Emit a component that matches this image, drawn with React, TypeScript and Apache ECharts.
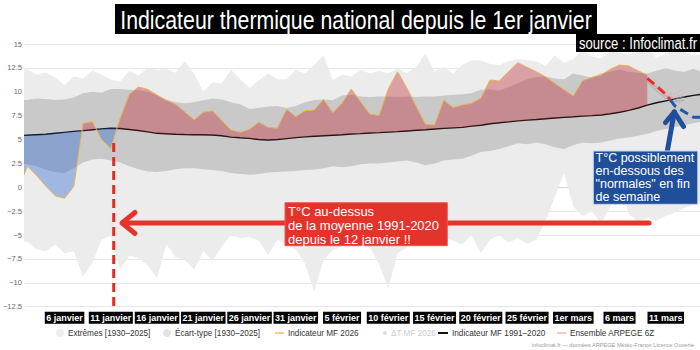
import React, { useEffect, useRef } from "react";
import * as echarts from "echarts";

// Day index (366-day climatological calendar: 1 = 1 Jan, 60 = 29 Feb, 61 = 1 Mar)
const DAYS = Array.from({ length: 75 }, (_, i) => i + 1);
const TICK_DAYS = [6, 11, 16, 21, 26, 31, 36, 41, 46, 51, 56, 61, 66, 71];
const TICK_LABELS = [
  "6 janvier", "11 janvier", "16 janvier", "21 janvier", "26 janvier", "31 janvier",
  "5 février", "10 février", "15 février", "20 février", "25 février",
  "1er mars", "6 mars", "11 mars",
];

const EXT_MAX = [
  12.8, 12.3, 11.8, 12.0, 11.5, 10.7, 11.6, 11.4, 12.2, 11.8,
  11.25, 11.05, 12.2, 11.7, 12.55, 12.3, 12.4, 12.0, 13.2, 11.9,
  10.0, 11.0, 10.9, 12.3, 11.3, 10.4, 11.2, 11.9, 11.3, 11.3,
  12.3, 11.9, 12.8, 13.85, 11.2, 11.8, 11.6, 12.3, 11.9, 12.2,
  11.9, 12.5, 11.9, 12.6, 14.0, 12.1, 12.6, 11.9, 12.8, 13.3,
  13.3, 12.9, 12.8, 13.2, 13.4, 13.3, 13.2, 12.7, 13.8, 13.0,
  13.4, 14.4, 13.7, 13.5, 14.2, 14.1, 13.9, 14.2, 14.7, 13.5,
  14.0, 14.5, 14.2, 13.8, 13.9,
];
const EXT_MIN = [
  -5.6, -5.7, -6.5, -6.7, -6.0, -6.9, -6.7, -9.4, -7.9, -5.5,
  -5.1, -8.6, -7.2, -7.4, -8.2, -9.5, -6.0, -7.3, -7.6, -8.6,
  -6.7, -7.7, -6.2, -5.0, -5.3, -5.2, -5.6, -7.1, -5.5, -6.0,
  -6.5, -8.0, -10.9, -7.6, -6.6, -6.2, -6.0, -5.8, -6.3, -8.0,
  -10.6, -6.9, -6.3, -5.6, -5.2, -5.4, -5.2, -5.6, -6.0, -5.0,
  -6.9, -5.5, -5.0, -5.8, -5.3, -5.9, -5.5, -3.5, -1.0, 1.5,
  -2.0, -3.0, -2.5, -3.8, -2.0, 0.0, -2.8, -3.6, -3.2, -3.5,
  -3.0, -2.6, -2.2, -1.8, -1.6,
];
const SD_MAX = [
  9.1, 9.15, 9.3, 9.25, 9.15, 9.2, 9.4, 9.85, 10.0, 9.9,
  10.3, 10.3, 10.2, 10.15, 10.0, 9.6, 9.2, 8.9, 8.8, 8.9,
  9.1, 9.3, 9.2, 8.9, 8.7, 8.2, 8.3, 8.45, 8.5, 8.3,
  8.5, 8.9, 9.15, 9.2, 9.1, 9.6, 9.7, 9.5, 9.45, 9.5,
  9.5, 9.45, 9.5, 9.45, 9.5, 9.5, 9.6, 9.7, 9.75, 9.85,
  10.2, 10.25, 10.1, 10.5, 10.9, 11.3, 11.55, 11.6, 11.4, 11.3,
  11.9, 11.7, 11.5, 11.9, 12.1, 12.3, 12.1, 12.0, 11.9, 12.2,
  12.45, 12.2, 12.1, 12.4, 12.0,
];
const SD_MIN = [
  2.5, 2.4, 2.2, 1.8, 1.6, 1.5, 2.0, 2.6, 2.9, 3.0,
  2.8, 2.6, 2.2, 1.9, 1.65, 1.6, 1.7, 1.9, 2.0, 2.0,
  1.9, 1.8, 1.7, 1.5, 1.4, 1.3, 1.4, 1.55, 1.6, 1.65,
  1.7, 1.8, 1.85, 2.0, 2.2, 2.1, 2.2, 2.4, 2.5, 2.5,
  2.6, 2.7, 2.8, 2.6, 2.3, 2.5, 2.8, 2.9, 3.0, 3.3,
  3.7, 3.8, 4.0, 4.3, 4.6, 4.5, 4.7, 4.5, 4.2, 4.0,
  4.4, 4.7, 4.6, 4.7, 4.9, 5.1, 5.2, 5.4, 5.6, 5.9,
  6.1, 6.3, 6.5, 6.7, 6.9,
];
const NORMAL_1991_2020 = [
  5.4, 5.45, 5.5, 5.55, 5.65, 5.75, 5.85, 5.93, 6.03, 6.12,
  6.18, 6.15, 6.05, 5.95, 5.8, 5.65, 5.6, 5.55, 5.52, 5.5,
  5.5, 5.48, 5.4, 5.25, 5.18, 5.12, 5.0, 4.95, 5.0, 5.1,
  5.2, 5.28, 5.35, 5.4, 5.45, 5.5, 5.58, 5.62, 5.68, 5.72,
  5.78, 5.83, 5.9, 5.97, 6.03, 6.1, 6.17, 6.22, 6.27, 6.4,
  6.5, 6.65, 6.75, 6.85, 6.95, 7.03, 7.1, 7.18, 7.25, 7.32,
  7.38, 7.45, 7.5, 7.57, 7.7, 7.85, 8.05, 8.3, 8.6, 8.85,
  9.05, 9.25, 9.45, 9.62, 9.75,
];
const INDICATOR_2026 = [
  -0.1, 2.2, 1.2, 0.1, -0.9, -1.15, 0.1, 6.7, 6.87, 5.0,
  4.08, 7.2, 9.73, 10.5, 10.25, 9.66, 9.1, 8.7, 7.9, 7.05,
  7.85, 8.0, 6.98, 6.0, 5.76, 6.07, 6.8, 6.28, 6.18, 8.17,
  7.39, 8.02, 8.09, 9.2, 7.81, 8.8, 10.29, 8.96, 7.68, 7.5,
  10.3, 12.1, 10.4, 8.5, 6.63, 6.52, 9.14, 8.34, 8.62, 8.8,
  9.32, 11.23, 11.13, 12.1, 13.05, 12.56, 12.1, 11.58, 10.9, 10.2,
  9.56, 11.16, 11.5, 11.76, 12.35, 12.8, 12.7, 12.2, 11.76,
];
const FORECAST_DAYS = [69, 70, 71, 72, 73, 74, 75];
const FORECAST = [11.4, 10.6, 9.75, 8.5, 7.9, 7.33, 7.35];
const ENS_DAYS = [69, 70, 71, 72, 73];
const ENSEMBLE_GREY = [
  [11.3, 10.5, 9.6, 9.2, 9.5],
  [11.0, 10.1, 9.3, 9.0, 9.1],
];
const ENSEMBLE_PINK = [
  [11.5, 10.8, 9.9, 9.7, 10.4],
  [11.2, 10.3, 9.5, 8.9, 8.8],
  [11.1, 10.4, 9.7, 9.4, 9.9],
];

const SANS = "'Liberation Sans', Arial, sans-serif";

const pairs = (xs: number[], ys: number[]) => ys.map((y, i) => [xs[i], y]);
// value first, day second: keeps the stacked dimension on the value (y) axis
const flipped = (xs: number[], ys: number[]) => ys.map((y, i) => [y, xs[i]]);
const ENC = { x: 1, y: 0 };

function band(id: string, name: string, lower: number[], upper: number[], color: string) {
  return [
    {
      type: "line", name: id + "_base", data: flipped(DAYS, lower), encode: ENC, stack: id,
      stackStrategy: "all", symbol: "none", lineStyle: { opacity: 0, width: 0 }, silent: true, z: 1,
    },
    {
      type: "line", name, data: flipped(DAYS, upper.map((u, i) => u - lower[i])), encode: ENC,
      stack: id, stackStrategy: "all", symbol: "none", lineStyle: { opacity: 0, width: 0 },
      areaStyle: { color, opacity: 1 }, itemStyle: { color }, silent: true, z: 1,
    },
  ];
}

function fillPoints() {
  const out: number[][] = [];
  for (let i = 0; i < INDICATOR_2026.length; i++) {
    const x = DAYS[i], n = NORMAL_1991_2020[i], v = INDICATOR_2026[i];
    out.push([x, n, v]);
    if (i < INDICATOR_2026.length - 1) {
      const d0 = v - n;
      const d1 = INDICATOR_2026[i + 1] - NORMAL_1991_2020[i + 1];
      if (d0 * d1 < 0) {
        const t = d0 / (d0 - d1);
        const nx = x + t * (DAYS[i + 1] - x);
        const nn = n + t * (NORMAL_1991_2020[i + 1] - n);
        out.push([nx, nn, nn]);
      }
    }
  }
  return out;
}

function splitForecast() {
  const red: number[][] = [];
  const blue: number[][] = [];
  let crossed = false;
  for (let i = 0; i < FORECAST.length; i++) {
    const d = FORECAST_DAYS[i], v = FORECAST[i], n = NORMAL_1991_2020[d - 1];
    if (!crossed && v >= n) {
      red.push([d, v]);
      if (i < FORECAST.length - 1) {
        const d2 = FORECAST_DAYS[i + 1];
        const v2 = FORECAST[i + 1], n2 = NORMAL_1991_2020[d2 - 1];
        if (v2 < n2) {
          const t = (v - n) / ((v - n) - (v2 - n2));
          const cx = d + t * (d2 - d);
          const cy = v + t * (v2 - v);
          red.push([cx, cy]);
          blue.push([cx, cy]);
          crossed = true;
        }
      }
    } else {
      crossed = true;
      blue.push([d, v]);
    }
  }
  return { red, blue };
}

function buildOption() {
  const fp = fillPoints();
  const fc = splitForecast();
  const hidden = { opacity: 0, width: 0 };
  const series: any[] = [
    ...band("ext", "Extrêmes [1930–2025]", EXT_MIN, EXT_MAX, "#ececec"),
    ...band("sd", "Écart-type [1930–2025]", SD_MIN, SD_MAX, "#c9c9c9"),
    {
      type: "line", name: "Indicateur MF 1991–2020", data: pairs(DAYS, NORMAL_1991_2020),
      symbol: "none", lineStyle: { color: "#111", width: 1.4 }, itemStyle: { color: "#111" }, z: 2,
    },
    {
      type: "line", name: "red_base", data: fp.map((p) => [p[1], p[0]]), encode: ENC, stack: "red",
      stackStrategy: "all", symbol: "none", lineStyle: hidden, silent: true, z: 3,
    },
    {
      type: "line", name: "red_fill", data: fp.map((p) => [Math.max(p[2] - p[1], 0), p[0]]), encode: ENC,
      stack: "red", stackStrategy: "all", symbol: "none", lineStyle: hidden, silent: true, z: 3,
      areaStyle: { color: "rgba(190,40,55,0.55)" },
    },
    {
      type: "line", name: "blue_base", data: fp.map((p) => [Math.min(p[1], p[2]), p[0]]), encode: ENC,
      stack: "blue", stackStrategy: "all", symbol: "none", lineStyle: hidden, silent: true, z: 3,
    },
    {
      type: "line", name: "blue_fill", data: fp.map((p) => [Math.max(p[1] - p[2], 0), p[0]]), encode: ENC,
      stack: "blue", stackStrategy: "all", symbol: "none", lineStyle: hidden, silent: true, z: 3,
      areaStyle: { color: "rgba(40,100,210,0.55)" },
    },
    {
      type: "line", name: "Indicateur MF 2026", data: pairs(DAYS, INDICATOR_2026),
      symbol: "none", lineStyle: { color: "#e8b44e", width: 1 }, itemStyle: { color: "#e8b44e" }, z: 4,
    },
    { type: "line", name: "ΔT MF 2026", data: [], itemStyle: { color: "#dddddd" } },
    ...ENSEMBLE_PINK.map((e) => ({
      type: "line", name: "Ensemble ARPEGE 6Z", data: pairs(ENS_DAYS, e), symbol: "none",
      lineStyle: { color: "#f2a0a0", width: 0.8, type: [2, 1.5] }, itemStyle: { color: "#f4b4b4" }, z: 5,
    })),
    ...ENSEMBLE_GREY.map((e) => ({
      type: "line", name: "Ensemble ARPEGE 6Z", data: pairs(ENS_DAYS, e), symbol: "none",
      lineStyle: { color: "#a0a0a0", width: 0.8 }, itemStyle: { color: "#f4b4b4" }, z: 5,
    })),
    {
      type: "line", name: "fc_red", data: fc.red, symbol: "none",
      lineStyle: { color: "#e3302a", width: 3, type: [9, 5] }, z: 6,
    },
    {
      type: "line", name: "fc_blue", data: fc.blue, symbol: "none",
      lineStyle: { color: "#2157aa", width: 3, type: [9, 5] }, z: 6,
    },
  ];

  const lg = (left: number, item: any, iw: number, ih: number, textColor = "#333") => ({
    show: true, left, top: 329, padding: 0, itemWidth: iw, itemHeight: ih, itemGap: 0,
    selectedMode: false, data: [item],
    textStyle: { fontSize: 8.2, color: textColor, fontFamily: SANS, padding: [0, 0, 0, -1] },
  });

  const Z = 100;
  const graphic: any[] = [
    // title
    { type: "rect", z: Z, shape: { x: 115, y: 4, width: 482, height: 30 }, style: { fill: "#000" } },
    {
      type: "text", z: Z + 1, x: 356, y: 19.5, scaleX: 0.82,
      style: {
        text: "Indicateur thermique national depuis le 1er janvier", fill: "#fff",
        fontSize: 26, fontFamily: SANS, textAlign: "center", textVerticalAlign: "middle",
      },
    },
    // source
    { type: "rect", z: Z, shape: { x: 576, y: 34, width: 124, height: 18 }, style: { fill: "#000" } },
    {
      type: "text", z: Z + 1, x: 638, y: 43.5, scaleX: 0.82,
      style: {
        text: "source : Infoclimat.fr", fill: "#fff", fontSize: 16, fontFamily: SANS,
        textAlign: "center", textVerticalAlign: "middle",
      },
    },
    // red vertical dashed line
    {
      type: "line", z: Z, shape: { x1: 113.7, y1: 143, x2: 113.7, y2: 306 },
      style: { stroke: "#e62a22", lineWidth: 3, lineDash: [9, 5] },
    },
    // red arrow
    {
      type: "polyline", z: Z, shape: { points: [[649, 223], [123, 223]] },
      style: { stroke: "#e5352b", lineWidth: 5, lineCap: "round", fill: null },
    },
    {
      type: "polyline", z: Z, shape: { points: [[135, 212.5], [122, 223], [135, 233.5]] },
      style: { stroke: "#e5352b", lineWidth: 5, lineCap: "round", lineJoin: "round", fill: null },
    },
    // red box
    {
      type: "rect", z: Z + 1, shape: { x: 285, y: 202.7, width: 162.3, height: 43 },
      style: { fill: "#e3342c", stroke: "#ea5a50", lineWidth: 1 },
    },
    {
      type: "text", z: Z + 2, x: 288, y: 204,
      style: {
        text: "T°C au-dessus\nde la moyenne 1991-2020\ndepuis le 12 janvier !!", fill: "#fff",
        fontSize: 13, fontFamily: SANS, lineHeight: 14, textVerticalAlign: "top",
      },
    },
    // blue arrow
    {
      type: "polyline", z: Z, shape: { points: [[667.3, 151], [674.3, 112]] },
      style: { stroke: "#1f4e9b", lineWidth: 5, lineCap: "round", fill: null },
    },
    {
      type: "polyline", z: Z, shape: { points: [[665.5, 122.5], [674.3, 112], [683.5, 126.5]] },
      style: { stroke: "#1f4e9b", lineWidth: 5, lineCap: "round", lineJoin: "round", fill: null },
    },
    // blue box
    {
      type: "rect", z: Z + 1, shape: { x: 593.3, y: 151, width: 104.5, height: 53.3 },
      style: { fill: "#1f4e9b", stroke: "#c9d6ee", lineWidth: 1 },
    },
    {
      type: "text", z: Z + 2, x: 595.5, y: 151.5,
      style: {
        text: 'T°C possiblement\nen-dessous des\n"normales" en fin\nde semaine', fill: "#fff",
        fontSize: 12.5, fontFamily: SANS, lineHeight: 13, textVerticalAlign: "top",
      },
    },
    // credits
    {
      type: "text", z: Z, x: 694, y: 345,
      style: {
        text: "infoclimat.fr — données ARPEGE Météo-France Licence Ouverte", fill: "#9a9a9a",
        fontSize: 5.6, fontFamily: SANS, textAlign: "right", textVerticalAlign: "middle",
      },
    },
  ];

  return {
    animation: false,
    textStyle: { fontFamily: SANS },
    grid: { left: 23, right: 0, top: 44, bottom: 43.3, containLabel: false },
    xAxis: {
      type: "value", min: 1.72, max: 74.7,
      axisLine: { show: true, lineStyle: { color: "#ccd6eb" } },
      axisTick: { show: true, customValues: TICK_DAYS, length: 5, lineStyle: { color: "#ccd6eb" } },
      axisLabel: {
        customValues: TICK_DAYS,
        formatter: (v: number) => {
          const i = TICK_DAYS.indexOf(Math.round(v));
          return i >= 0 ? TICK_LABELS[i] : "";
        },
        color: "#fff", backgroundColor: "#000", padding: [1, 1.5, 1, 1.5],
        fontSize: 9, lineHeight: 10, fontWeight: "bold", fontFamily: SANS, margin: 5,
      },
      splitLine: { show: false },
    },
    yAxis: {
      type: "value", min: -12.5, max: 15, interval: 2.5,
      axisLine: { show: false }, axisTick: { show: false },
      axisLabel: {
        fontSize: 7.5, color: "#666", fontFamily: SANS, margin: 3,
        formatter: (v: number) => (v < 0 ? "−" + Math.abs(v) : String(v)),
      },
      splitLine: { lineStyle: { color: "#e6e6e6", width: 1 } },
    },
    legend: [
      lg(56, { name: "Extrêmes [1930–2025]", icon: "circle", itemStyle: { color: "#eeeeee" } }, 8, 8),
      lg(163, { name: "Écart-type [1930–2025]", icon: "circle", itemStyle: { color: "#e2e2e2" } }, 8, 8),
      lg(275, { name: "Indicateur MF 2026", icon: "rect", itemStyle: { color: "#e8c27a" } }, 9, 1.5),
      lg(383, { name: "ΔT MF 2026", icon: "circle", itemStyle: { color: "#dddddd" } }, 4, 4, "#cccccc"),
      lg(438, { name: "Indicateur MF 1991–2020", icon: "rect", itemStyle: { color: "#111" } }, 10, 2),
      lg(557, { name: "Ensemble ARPEGE 6Z", icon: "rect", itemStyle: { color: "#f4b4b4" } }, 9, 1.5),
    ],
    series,
    graphic,
  };
}

export default function App() {
  const ref = useRef<HTMLDivElement>(null);
  useEffect(() => {
    if (!ref.current) return;
    const chart = echarts.init(ref.current, null, { renderer: "svg" });
    chart.setOption(buildOption() as any);
    return () => chart.dispose();
  }, []);
  return (
    <div
      ref={ref}
      style={{ position: "fixed", left: 0, top: 0, width: 700, height: 350, background: "#fff" }}
    />
  );
}
